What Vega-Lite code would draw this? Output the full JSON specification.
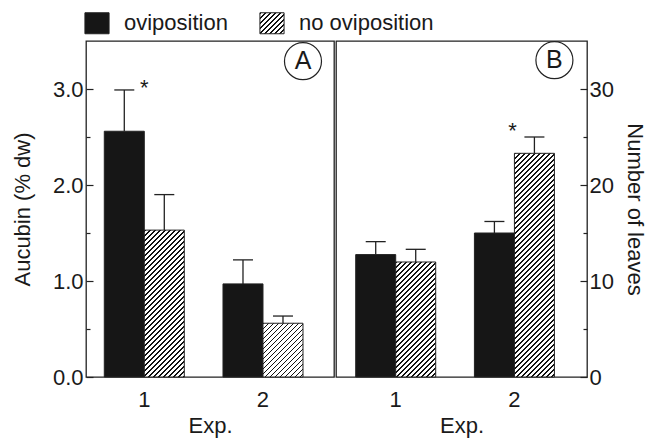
{
  "$schema": "https://vega.github.io/schema/vega-lite/v6.json",
  "padding": {"left": 10, "top": 12, "right": 5, "bottom": 5},
  "spacing": 0,
  "datasets": {
    "A": [
      {"exp": "1", "treat": "oviposition", "value": 2.56, "upper": 2.99},
      {"exp": "1", "treat": "no oviposition", "value": 1.53, "upper": 1.9},
      {"exp": "2", "treat": "oviposition", "value": 0.97, "upper": 1.22},
      {"exp": "2", "treat": "no oviposition", "value": 0.56, "upper": 0.635}
    ],
    "B": [
      {"exp": "1", "treat": "oviposition", "value": 12.75, "upper": 14.1},
      {"exp": "1", "treat": "no oviposition", "value": 11.98, "upper": 13.3},
      {"exp": "2", "treat": "oviposition", "value": 15.0, "upper": 16.2},
      {"exp": "2", "treat": "no oviposition", "value": 23.3, "upper": 25.0}
    ]
  },
  "config": {
    "font": "Liberation Sans",
    "view": {"stroke": "#222", "strokeWidth": 1.3},
    "axis": {"labelFontSize": 22, "titleFontSize": 22, "titleFontWeight": "normal", "labelColor": "#1a1a1a", "titleColor": "#1a1a1a", "grid": false, "tickColor": "#222", "tickWidth": 1.2, "domain": false, "labelFont": "Liberation Sans", "titleFont": "Liberation Sans"},
    "legend": {"labelFontSize": 22, "labelColor": "#1a1a1a", "labelFont": "Liberation Sans"}
  },
  "hconcat": [
    {
      "width": 248,
      "height": 336,
      "data": {"name": "A"},
      "layer": [
        {
          "mark": {"type": "bar", "stroke": "#222", "strokeWidth": 1},
          "encoding": {
            "x": {"field": "exp", "type": "nominal", "scale": {"paddingInner": 0.326, "paddingOuter": 0.2077, "align": 0.371}, "axis": {"labelAngle": 0, "ticks": false, "labelPadding": 12, "title": "Exp.", "titlePadding": 5}},
            "xOffset": {"field": "treat", "type": "nominal", "scale": {"domain": ["oviposition", "no oviposition"], "paddingInner": 0, "paddingOuter": 0}},
            "y": {"field": "value", "type": "quantitative", "scale": {"domain": [0, 3.5], "nice": false}, "axis": {"values": [0, 0.5, 1, 1.5, 2, 2.5, 3], "labelExpr": "datum.value % 1 === 0 ? format(datum.value, '.1f') : ''", "tickSize": {"condition": {"test": "datum.value % 1 === 0", "value": -7}, "value": -4}, "labelPadding": 10, "title": "Aucubin (% dw)", "titlePadding": 18}},
            "fill": {
              "condition": [
                {"test": "datum.treat === 'no oviposition' && datum.exp === '1'", "value": {"gradient": "linear", "x1": 0, "y1": 0, "x2": 0.4573, "y2": 1.6794, "stops": [
{"offset":0,"color":"#111"},{"offset":0.0064,"color":"#111"},{"offset":0.0064,"color":"#fff"},
{"offset":0.0189,"color":"#fff"},{"offset":0.0189,"color":"#111"},{"offset":0.0253,"color":"#111"},{"offset":0.0253,"color":"#fff"},
{"offset":0.0377,"color":"#fff"},{"offset":0.0377,"color":"#111"},{"offset":0.0442,"color":"#111"},{"offset":0.0442,"color":"#fff"},
{"offset":0.0566,"color":"#fff"},{"offset":0.0566,"color":"#111"},{"offset":0.063,"color":"#111"},{"offset":0.063,"color":"#fff"},
{"offset":0.0755,"color":"#fff"},{"offset":0.0755,"color":"#111"},{"offset":0.0819,"color":"#111"},{"offset":0.0819,"color":"#fff"},
{"offset":0.0943,"color":"#fff"},{"offset":0.0943,"color":"#111"},{"offset":0.1008,"color":"#111"},{"offset":0.1008,"color":"#fff"},
{"offset":0.1132,"color":"#fff"},{"offset":0.1132,"color":"#111"},{"offset":0.1196,"color":"#111"},{"offset":0.1196,"color":"#fff"},
{"offset":0.1321,"color":"#fff"},{"offset":0.1321,"color":"#111"},{"offset":0.1385,"color":"#111"},{"offset":0.1385,"color":"#fff"},
{"offset":0.1509,"color":"#fff"},{"offset":0.1509,"color":"#111"},{"offset":0.1574,"color":"#111"},{"offset":0.1574,"color":"#fff"},
{"offset":0.1698,"color":"#fff"},{"offset":0.1698,"color":"#111"},{"offset":0.1762,"color":"#111"},{"offset":0.1762,"color":"#fff"},
{"offset":0.1887,"color":"#fff"},{"offset":0.1887,"color":"#111"},{"offset":0.1951,"color":"#111"},{"offset":0.1951,"color":"#fff"},
{"offset":0.2075,"color":"#fff"},{"offset":0.2075,"color":"#111"},{"offset":0.214,"color":"#111"},{"offset":0.214,"color":"#fff"},
{"offset":0.2264,"color":"#fff"},{"offset":0.2264,"color":"#111"},{"offset":0.2328,"color":"#111"},{"offset":0.2328,"color":"#fff"},
{"offset":0.2453,"color":"#fff"},{"offset":0.2453,"color":"#111"},{"offset":0.2517,"color":"#111"},{"offset":0.2517,"color":"#fff"},
{"offset":0.2642,"color":"#fff"},{"offset":0.2642,"color":"#111"},{"offset":0.2706,"color":"#111"},{"offset":0.2706,"color":"#fff"},
{"offset":0.283,"color":"#fff"},{"offset":0.283,"color":"#111"},{"offset":0.2894,"color":"#111"},{"offset":0.2894,"color":"#fff"},
{"offset":0.3019,"color":"#fff"},{"offset":0.3019,"color":"#111"},{"offset":0.3083,"color":"#111"},{"offset":0.3083,"color":"#fff"},
{"offset":0.3208,"color":"#fff"},{"offset":0.3208,"color":"#111"},{"offset":0.3272,"color":"#111"},{"offset":0.3272,"color":"#fff"},
{"offset":0.3396,"color":"#fff"},{"offset":0.3396,"color":"#111"},{"offset":0.346,"color":"#111"},{"offset":0.346,"color":"#fff"},
{"offset":0.3585,"color":"#fff"},{"offset":0.3585,"color":"#111"},{"offset":0.3649,"color":"#111"},{"offset":0.3649,"color":"#fff"},
{"offset":0.3774,"color":"#fff"},{"offset":0.3774,"color":"#111"},{"offset":0.3838,"color":"#111"},{"offset":0.3838,"color":"#fff"},
{"offset":0.3962,"color":"#fff"},{"offset":0.3962,"color":"#111"},{"offset":0.4026,"color":"#111"},{"offset":0.4026,"color":"#fff"},
{"offset":0.4151,"color":"#fff"},{"offset":0.4151,"color":"#111"},{"offset":0.4215,"color":"#111"},{"offset":0.4215,"color":"#fff"},
{"offset":0.434,"color":"#fff"},{"offset":0.434,"color":"#111"},{"offset":0.4404,"color":"#111"},{"offset":0.4404,"color":"#fff"},
{"offset":0.4528,"color":"#fff"},{"offset":0.4528,"color":"#111"},{"offset":0.4592,"color":"#111"},{"offset":0.4592,"color":"#fff"},
{"offset":0.4717,"color":"#fff"},{"offset":0.4717,"color":"#111"},{"offset":0.4781,"color":"#111"},{"offset":0.4781,"color":"#fff"},
{"offset":0.4906,"color":"#fff"},{"offset":0.4906,"color":"#111"},{"offset":0.497,"color":"#111"},{"offset":0.497,"color":"#fff"},
{"offset":0.5094,"color":"#fff"},{"offset":0.5094,"color":"#111"},{"offset":0.5158,"color":"#111"},{"offset":0.5158,"color":"#fff"},
{"offset":0.5283,"color":"#fff"},{"offset":0.5283,"color":"#111"},{"offset":0.5347,"color":"#111"},{"offset":0.5347,"color":"#fff"},
{"offset":0.5472,"color":"#fff"},{"offset":0.5472,"color":"#111"},{"offset":0.5536,"color":"#111"},{"offset":0.5536,"color":"#fff"},
{"offset":0.566,"color":"#fff"},{"offset":0.566,"color":"#111"},{"offset":0.5724,"color":"#111"},{"offset":0.5724,"color":"#fff"},
{"offset":0.5849,"color":"#fff"},{"offset":0.5849,"color":"#111"},{"offset":0.5913,"color":"#111"},{"offset":0.5913,"color":"#fff"},
{"offset":0.6038,"color":"#fff"},{"offset":0.6038,"color":"#111"},{"offset":0.6102,"color":"#111"},{"offset":0.6102,"color":"#fff"},
{"offset":0.6226,"color":"#fff"},{"offset":0.6226,"color":"#111"},{"offset":0.629,"color":"#111"},{"offset":0.629,"color":"#fff"},
{"offset":0.6415,"color":"#fff"},{"offset":0.6415,"color":"#111"},{"offset":0.6479,"color":"#111"},{"offset":0.6479,"color":"#fff"},
{"offset":0.6604,"color":"#fff"},{"offset":0.6604,"color":"#111"},{"offset":0.6668,"color":"#111"},{"offset":0.6668,"color":"#fff"},
{"offset":0.6792,"color":"#fff"},{"offset":0.6792,"color":"#111"},{"offset":0.6856,"color":"#111"},{"offset":0.6856,"color":"#fff"},
{"offset":0.6981,"color":"#fff"},{"offset":0.6981,"color":"#111"},{"offset":0.7045,"color":"#111"},{"offset":0.7045,"color":"#fff"},
{"offset":0.717,"color":"#fff"},{"offset":0.717,"color":"#111"},{"offset":0.7234,"color":"#111"},{"offset":0.7234,"color":"#fff"}
]}},
                {"test": "datum.treat === 'no oviposition' && datum.exp === '2'", "value": {"gradient": "linear", "x1": 0, "y1": 0, "x2": 2.3585, "y2": 3.1722, "stops": [
{"offset":0,"color":"#111"},{"offset":0.0064,"color":"#111"},{"offset":0.0064,"color":"#fff"},
{"offset":0.0189,"color":"#fff"},{"offset":0.0189,"color":"#111"},{"offset":0.0253,"color":"#111"},{"offset":0.0253,"color":"#fff"},
{"offset":0.0377,"color":"#fff"},{"offset":0.0377,"color":"#111"},{"offset":0.0442,"color":"#111"},{"offset":0.0442,"color":"#fff"},
{"offset":0.0566,"color":"#fff"},{"offset":0.0566,"color":"#111"},{"offset":0.063,"color":"#111"},{"offset":0.063,"color":"#fff"},
{"offset":0.0755,"color":"#fff"},{"offset":0.0755,"color":"#111"},{"offset":0.0819,"color":"#111"},{"offset":0.0819,"color":"#fff"},
{"offset":0.0943,"color":"#fff"},{"offset":0.0943,"color":"#111"},{"offset":0.1008,"color":"#111"},{"offset":0.1008,"color":"#fff"},
{"offset":0.1132,"color":"#fff"},{"offset":0.1132,"color":"#111"},{"offset":0.1196,"color":"#111"},{"offset":0.1196,"color":"#fff"},
{"offset":0.1321,"color":"#fff"},{"offset":0.1321,"color":"#111"},{"offset":0.1385,"color":"#111"},{"offset":0.1385,"color":"#fff"},
{"offset":0.1509,"color":"#fff"},{"offset":0.1509,"color":"#111"},{"offset":0.1574,"color":"#111"},{"offset":0.1574,"color":"#fff"},
{"offset":0.1698,"color":"#fff"},{"offset":0.1698,"color":"#111"},{"offset":0.1762,"color":"#111"},{"offset":0.1762,"color":"#fff"},
{"offset":0.1887,"color":"#fff"},{"offset":0.1887,"color":"#111"},{"offset":0.1951,"color":"#111"},{"offset":0.1951,"color":"#fff"},
{"offset":0.2075,"color":"#fff"},{"offset":0.2075,"color":"#111"},{"offset":0.214,"color":"#111"},{"offset":0.214,"color":"#fff"},
{"offset":0.2264,"color":"#fff"},{"offset":0.2264,"color":"#111"},{"offset":0.2328,"color":"#111"},{"offset":0.2328,"color":"#fff"},
{"offset":0.2453,"color":"#fff"},{"offset":0.2453,"color":"#111"},{"offset":0.2517,"color":"#111"},{"offset":0.2517,"color":"#fff"},
{"offset":0.2642,"color":"#fff"},{"offset":0.2642,"color":"#111"},{"offset":0.2706,"color":"#111"},{"offset":0.2706,"color":"#fff"},
{"offset":0.283,"color":"#fff"},{"offset":0.283,"color":"#111"},{"offset":0.2894,"color":"#111"},{"offset":0.2894,"color":"#fff"},
{"offset":0.3019,"color":"#fff"},{"offset":0.3019,"color":"#111"},{"offset":0.3083,"color":"#111"},{"offset":0.3083,"color":"#fff"},
{"offset":0.3208,"color":"#fff"},{"offset":0.3208,"color":"#111"},{"offset":0.3272,"color":"#111"},{"offset":0.3272,"color":"#fff"},
{"offset":0.3396,"color":"#fff"},{"offset":0.3396,"color":"#111"},{"offset":0.346,"color":"#111"},{"offset":0.346,"color":"#fff"},
{"offset":0.3585,"color":"#fff"},{"offset":0.3585,"color":"#111"},{"offset":0.3649,"color":"#111"},{"offset":0.3649,"color":"#fff"}
]}}
              ],
              "field": "treat", "type": "nominal",
              "scale": {"domain": ["oviposition", "no oviposition"], "range": ["#161616", {"expr": "{gradient: 'linear', x1: 0, y1: 0, x2: 1.179, y2: 1.025, stops: [{offset: 0, color: '#111'}, {offset: 0.034, color: '#111'}, {offset: 0.034, color: '#fff'}, {offset: 0.1, color: '#fff'}, {offset: 0.1, color: '#111'}, {offset: 0.134, color: '#111'}, {offset: 0.134, color: '#fff'}, {offset: 0.2, color: '#fff'}, {offset: 0.2, color: '#111'}, {offset: 0.234, color: '#111'}, {offset: 0.234, color: '#fff'}, {offset: 0.3, color: '#fff'}, {offset: 0.3, color: '#111'}, {offset: 0.334, color: '#111'}, {offset: 0.334, color: '#fff'}, {offset: 0.4, color: '#fff'}, {offset: 0.4, color: '#111'}, {offset: 0.434, color: '#111'}, {offset: 0.434, color: '#fff'}, {offset: 0.5, color: '#fff'}, {offset: 0.5, color: '#111'}, {offset: 0.534, color: '#111'}, {offset: 0.534, color: '#fff'}, {offset: 0.6, color: '#fff'}, {offset: 0.6, color: '#111'}, {offset: 0.634, color: '#111'}, {offset: 0.634, color: '#fff'}, {offset: 0.7, color: '#fff'}, {offset: 0.7, color: '#111'}, {offset: 0.734, color: '#111'}, {offset: 0.734, color: '#fff'}, {offset: 0.8, color: '#fff'}, {offset: 0.8, color: '#111'}, {offset: 0.834, color: '#111'}, {offset: 0.834, color: '#fff'}, {offset: 0.9, color: '#fff'}, {offset: 0.9, color: '#111'}, {offset: 0.934, color: '#111'}, {offset: 0.934, color: '#fff'}]}"}]},
              "legend": {
                "title": null, "orient": "top", "direction": "horizontal", "offset": 2,
                "symbolType": "M-1.15,-1H1.15V1H-1.15Z", "symbolSize": 441, "symbolStrokeColor": "#222", "symbolStrokeWidth": 1,
                "labelOffset": 16, "columnPadding": 29
              }
            }
          }
        },
        {
          "mark": {"type": "rule", "color": "#222", "strokeWidth": 1.3},
          "encoding": {
            "x": {"field": "exp", "type": "nominal"},
            "xOffset": {"field": "treat", "type": "nominal"},
            "y": {"field": "value", "type": "quantitative"},
            "y2": {"field": "upper"}
          }
        },
        {
          "mark": {"type": "tick", "orient": "horizontal", "size": 20, "thickness": 1.3, "color": "#222", "opacity": 1},
          "encoding": {
            "x": {"field": "exp", "type": "nominal"},
            "xOffset": {"field": "treat", "type": "nominal"},
            "y": {"field": "upper", "type": "quantitative"}
          }
        },
        {
          "data": {"values": [{}]},
          "mark": {"type": "text", "text": "*", "fontSize": 22, "baseline": "alphabetic", "align": "center", "color": "#1a1a1a"},
          "encoding": {"x": {"datum": "1"}, "y": {"datum": 2.94}}
        },
        {
          "data": {"values": [{}]},
          "mark": {"type": "point", "shape": "circle", "size": 1369, "filled": false, "stroke": "#222", "strokeWidth": 1.2, "opacity": 1},
          "encoding": {"x": {"datum": "2", "bandPosition": 1}, "y": {"datum": 3.29}}
        },
        {
          "data": {"values": [{}]},
          "mark": {"type": "text", "text": "A", "fontSize": 25, "baseline": "middle", "align": "center", "color": "#1a1a1a"},
          "encoding": {"x": {"datum": "2", "bandPosition": 1}, "y": {"datum": 3.29}}
        }
      ]
    },
    {
      "width": 251,
      "height": 336,
      "data": {"name": "B"},
      "layer": [
        {
          "mark": {"type": "bar", "stroke": "#222", "strokeWidth": 1},
          "encoding": {
            "x": {"field": "exp", "type": "nominal", "scale": {"paddingInner": 0.326, "paddingOuter": 0.2203, "align": 0.377}, "axis": {"labelAngle": 0, "ticks": false, "labelPadding": 12, "title": "Exp.", "titlePadding": 5}},
            "xOffset": {"field": "treat", "type": "nominal", "scale": {"domain": ["oviposition", "no oviposition"], "paddingInner": 0, "paddingOuter": 0}},
            "y": {"field": "value", "type": "quantitative", "scale": {"domain": [0, 35], "nice": false}, "axis": {"orient": "right", "values": [0, 5, 10, 15, 20, 25, 30], "labelExpr": "datum.value % 10 === 0 ? format(datum.value, 'd') : ''", "tickSize": {"condition": {"test": "datum.value % 10 === 0", "value": -7}, "value": -4}, "labelPadding": 9, "title": "Number of leaves", "titlePadding": 9}},
            "fill": {
              "condition": [
                {"test": "datum.treat === 'no oviposition' && datum.exp === '1'", "value": {"gradient": "linear", "x1": 0, "y1": 0, "x2": 0.715, "y2": 2.0557, "stops": [
{"offset":0,"color":"#111"},{"offset":0.0064,"color":"#111"},{"offset":0.0064,"color":"#fff"},
{"offset":0.0189,"color":"#fff"},{"offset":0.0189,"color":"#111"},{"offset":0.0253,"color":"#111"},{"offset":0.0253,"color":"#fff"},
{"offset":0.0377,"color":"#fff"},{"offset":0.0377,"color":"#111"},{"offset":0.0442,"color":"#111"},{"offset":0.0442,"color":"#fff"},
{"offset":0.0566,"color":"#fff"},{"offset":0.0566,"color":"#111"},{"offset":0.063,"color":"#111"},{"offset":0.063,"color":"#fff"},
{"offset":0.0755,"color":"#fff"},{"offset":0.0755,"color":"#111"},{"offset":0.0819,"color":"#111"},{"offset":0.0819,"color":"#fff"},
{"offset":0.0943,"color":"#fff"},{"offset":0.0943,"color":"#111"},{"offset":0.1008,"color":"#111"},{"offset":0.1008,"color":"#fff"},
{"offset":0.1132,"color":"#fff"},{"offset":0.1132,"color":"#111"},{"offset":0.1196,"color":"#111"},{"offset":0.1196,"color":"#fff"},
{"offset":0.1321,"color":"#fff"},{"offset":0.1321,"color":"#111"},{"offset":0.1385,"color":"#111"},{"offset":0.1385,"color":"#fff"},
{"offset":0.1509,"color":"#fff"},{"offset":0.1509,"color":"#111"},{"offset":0.1574,"color":"#111"},{"offset":0.1574,"color":"#fff"},
{"offset":0.1698,"color":"#fff"},{"offset":0.1698,"color":"#111"},{"offset":0.1762,"color":"#111"},{"offset":0.1762,"color":"#fff"},
{"offset":0.1887,"color":"#fff"},{"offset":0.1887,"color":"#111"},{"offset":0.1951,"color":"#111"},{"offset":0.1951,"color":"#fff"},
{"offset":0.2075,"color":"#fff"},{"offset":0.2075,"color":"#111"},{"offset":0.214,"color":"#111"},{"offset":0.214,"color":"#fff"},
{"offset":0.2264,"color":"#fff"},{"offset":0.2264,"color":"#111"},{"offset":0.2328,"color":"#111"},{"offset":0.2328,"color":"#fff"},
{"offset":0.2453,"color":"#fff"},{"offset":0.2453,"color":"#111"},{"offset":0.2517,"color":"#111"},{"offset":0.2517,"color":"#fff"},
{"offset":0.2642,"color":"#fff"},{"offset":0.2642,"color":"#111"},{"offset":0.2706,"color":"#111"},{"offset":0.2706,"color":"#fff"},
{"offset":0.283,"color":"#fff"},{"offset":0.283,"color":"#111"},{"offset":0.2894,"color":"#111"},{"offset":0.2894,"color":"#fff"},
{"offset":0.3019,"color":"#fff"},{"offset":0.3019,"color":"#111"},{"offset":0.3083,"color":"#111"},{"offset":0.3083,"color":"#fff"},
{"offset":0.3208,"color":"#fff"},{"offset":0.3208,"color":"#111"},{"offset":0.3272,"color":"#111"},{"offset":0.3272,"color":"#fff"},
{"offset":0.3396,"color":"#fff"},{"offset":0.3396,"color":"#111"},{"offset":0.346,"color":"#111"},{"offset":0.346,"color":"#fff"},
{"offset":0.3585,"color":"#fff"},{"offset":0.3585,"color":"#111"},{"offset":0.3649,"color":"#111"},{"offset":0.3649,"color":"#fff"},
{"offset":0.3774,"color":"#fff"},{"offset":0.3774,"color":"#111"},{"offset":0.3838,"color":"#111"},{"offset":0.3838,"color":"#fff"},
{"offset":0.3962,"color":"#fff"},{"offset":0.3962,"color":"#111"},{"offset":0.4026,"color":"#111"},{"offset":0.4026,"color":"#fff"},
{"offset":0.4151,"color":"#fff"},{"offset":0.4151,"color":"#111"},{"offset":0.4215,"color":"#111"},{"offset":0.4215,"color":"#fff"},
{"offset":0.434,"color":"#fff"},{"offset":0.434,"color":"#111"},{"offset":0.4404,"color":"#111"},{"offset":0.4404,"color":"#fff"},
{"offset":0.4528,"color":"#fff"},{"offset":0.4528,"color":"#111"},{"offset":0.4592,"color":"#111"},{"offset":0.4592,"color":"#fff"},
{"offset":0.4717,"color":"#fff"},{"offset":0.4717,"color":"#111"},{"offset":0.4781,"color":"#111"},{"offset":0.4781,"color":"#fff"},
{"offset":0.4906,"color":"#fff"},{"offset":0.4906,"color":"#111"},{"offset":0.497,"color":"#111"},{"offset":0.497,"color":"#fff"},
{"offset":0.5094,"color":"#fff"},{"offset":0.5094,"color":"#111"},{"offset":0.5158,"color":"#111"},{"offset":0.5158,"color":"#fff"},
{"offset":0.5283,"color":"#fff"},{"offset":0.5283,"color":"#111"},{"offset":0.5347,"color":"#111"},{"offset":0.5347,"color":"#fff"},
{"offset":0.5472,"color":"#fff"},{"offset":0.5472,"color":"#111"},{"offset":0.5536,"color":"#111"},{"offset":0.5536,"color":"#fff"},
{"offset":0.566,"color":"#fff"},{"offset":0.566,"color":"#111"},{"offset":0.5724,"color":"#111"},{"offset":0.5724,"color":"#fff"},
{"offset":0.5849,"color":"#fff"},{"offset":0.5849,"color":"#111"},{"offset":0.5913,"color":"#111"},{"offset":0.5913,"color":"#fff"}
]}},
                {"test": "datum.treat === 'no oviposition' && datum.exp === '2'", "value": {"gradient": "linear", "x1": 0, "y1": 0, "x2": 0.2053, "y2": 1.1479, "stops": [
{"offset":0,"color":"#111"},{"offset":0.0064,"color":"#111"},{"offset":0.0064,"color":"#fff"},
{"offset":0.0189,"color":"#fff"},{"offset":0.0189,"color":"#111"},{"offset":0.0253,"color":"#111"},{"offset":0.0253,"color":"#fff"},
{"offset":0.0377,"color":"#fff"},{"offset":0.0377,"color":"#111"},{"offset":0.0442,"color":"#111"},{"offset":0.0442,"color":"#fff"},
{"offset":0.0566,"color":"#fff"},{"offset":0.0566,"color":"#111"},{"offset":0.063,"color":"#111"},{"offset":0.063,"color":"#fff"},
{"offset":0.0755,"color":"#fff"},{"offset":0.0755,"color":"#111"},{"offset":0.0819,"color":"#111"},{"offset":0.0819,"color":"#fff"},
{"offset":0.0943,"color":"#fff"},{"offset":0.0943,"color":"#111"},{"offset":0.1008,"color":"#111"},{"offset":0.1008,"color":"#fff"},
{"offset":0.1132,"color":"#fff"},{"offset":0.1132,"color":"#111"},{"offset":0.1196,"color":"#111"},{"offset":0.1196,"color":"#fff"},
{"offset":0.1321,"color":"#fff"},{"offset":0.1321,"color":"#111"},{"offset":0.1385,"color":"#111"},{"offset":0.1385,"color":"#fff"},
{"offset":0.1509,"color":"#fff"},{"offset":0.1509,"color":"#111"},{"offset":0.1574,"color":"#111"},{"offset":0.1574,"color":"#fff"},
{"offset":0.1698,"color":"#fff"},{"offset":0.1698,"color":"#111"},{"offset":0.1762,"color":"#111"},{"offset":0.1762,"color":"#fff"},
{"offset":0.1887,"color":"#fff"},{"offset":0.1887,"color":"#111"},{"offset":0.1951,"color":"#111"},{"offset":0.1951,"color":"#fff"},
{"offset":0.2075,"color":"#fff"},{"offset":0.2075,"color":"#111"},{"offset":0.214,"color":"#111"},{"offset":0.214,"color":"#fff"},
{"offset":0.2264,"color":"#fff"},{"offset":0.2264,"color":"#111"},{"offset":0.2328,"color":"#111"},{"offset":0.2328,"color":"#fff"},
{"offset":0.2453,"color":"#fff"},{"offset":0.2453,"color":"#111"},{"offset":0.2517,"color":"#111"},{"offset":0.2517,"color":"#fff"},
{"offset":0.2642,"color":"#fff"},{"offset":0.2642,"color":"#111"},{"offset":0.2706,"color":"#111"},{"offset":0.2706,"color":"#fff"},
{"offset":0.283,"color":"#fff"},{"offset":0.283,"color":"#111"},{"offset":0.2894,"color":"#111"},{"offset":0.2894,"color":"#fff"},
{"offset":0.3019,"color":"#fff"},{"offset":0.3019,"color":"#111"},{"offset":0.3083,"color":"#111"},{"offset":0.3083,"color":"#fff"},
{"offset":0.3208,"color":"#fff"},{"offset":0.3208,"color":"#111"},{"offset":0.3272,"color":"#111"},{"offset":0.3272,"color":"#fff"},
{"offset":0.3396,"color":"#fff"},{"offset":0.3396,"color":"#111"},{"offset":0.346,"color":"#111"},{"offset":0.346,"color":"#fff"},
{"offset":0.3585,"color":"#fff"},{"offset":0.3585,"color":"#111"},{"offset":0.3649,"color":"#111"},{"offset":0.3649,"color":"#fff"},
{"offset":0.3774,"color":"#fff"},{"offset":0.3774,"color":"#111"},{"offset":0.3838,"color":"#111"},{"offset":0.3838,"color":"#fff"},
{"offset":0.3962,"color":"#fff"},{"offset":0.3962,"color":"#111"},{"offset":0.4026,"color":"#111"},{"offset":0.4026,"color":"#fff"},
{"offset":0.4151,"color":"#fff"},{"offset":0.4151,"color":"#111"},{"offset":0.4215,"color":"#111"},{"offset":0.4215,"color":"#fff"},
{"offset":0.434,"color":"#fff"},{"offset":0.434,"color":"#111"},{"offset":0.4404,"color":"#111"},{"offset":0.4404,"color":"#fff"},
{"offset":0.4528,"color":"#fff"},{"offset":0.4528,"color":"#111"},{"offset":0.4592,"color":"#111"},{"offset":0.4592,"color":"#fff"},
{"offset":0.4717,"color":"#fff"},{"offset":0.4717,"color":"#111"},{"offset":0.4781,"color":"#111"},{"offset":0.4781,"color":"#fff"},
{"offset":0.4906,"color":"#fff"},{"offset":0.4906,"color":"#111"},{"offset":0.497,"color":"#111"},{"offset":0.497,"color":"#fff"},
{"offset":0.5094,"color":"#fff"},{"offset":0.5094,"color":"#111"},{"offset":0.5158,"color":"#111"},{"offset":0.5158,"color":"#fff"},
{"offset":0.5283,"color":"#fff"},{"offset":0.5283,"color":"#111"},{"offset":0.5347,"color":"#111"},{"offset":0.5347,"color":"#fff"},
{"offset":0.5472,"color":"#fff"},{"offset":0.5472,"color":"#111"},{"offset":0.5536,"color":"#111"},{"offset":0.5536,"color":"#fff"},
{"offset":0.566,"color":"#fff"},{"offset":0.566,"color":"#111"},{"offset":0.5724,"color":"#111"},{"offset":0.5724,"color":"#fff"},
{"offset":0.5849,"color":"#fff"},{"offset":0.5849,"color":"#111"},{"offset":0.5913,"color":"#111"},{"offset":0.5913,"color":"#fff"},
{"offset":0.6038,"color":"#fff"},{"offset":0.6038,"color":"#111"},{"offset":0.6102,"color":"#111"},{"offset":0.6102,"color":"#fff"},
{"offset":0.6226,"color":"#fff"},{"offset":0.6226,"color":"#111"},{"offset":0.629,"color":"#111"},{"offset":0.629,"color":"#fff"},
{"offset":0.6415,"color":"#fff"},{"offset":0.6415,"color":"#111"},{"offset":0.6479,"color":"#111"},{"offset":0.6479,"color":"#fff"},
{"offset":0.6604,"color":"#fff"},{"offset":0.6604,"color":"#111"},{"offset":0.6668,"color":"#111"},{"offset":0.6668,"color":"#fff"},
{"offset":0.6792,"color":"#fff"},{"offset":0.6792,"color":"#111"},{"offset":0.6856,"color":"#111"},{"offset":0.6856,"color":"#fff"},
{"offset":0.6981,"color":"#fff"},{"offset":0.6981,"color":"#111"},{"offset":0.7045,"color":"#111"},{"offset":0.7045,"color":"#fff"},
{"offset":0.717,"color":"#fff"},{"offset":0.717,"color":"#111"},{"offset":0.7234,"color":"#111"},{"offset":0.7234,"color":"#fff"},
{"offset":0.7358,"color":"#fff"},{"offset":0.7358,"color":"#111"},{"offset":0.7422,"color":"#111"},{"offset":0.7422,"color":"#fff"},
{"offset":0.7547,"color":"#fff"},{"offset":0.7547,"color":"#111"},{"offset":0.7611,"color":"#111"},{"offset":0.7611,"color":"#fff"},
{"offset":0.7736,"color":"#fff"},{"offset":0.7736,"color":"#111"},{"offset":0.78,"color":"#111"},{"offset":0.78,"color":"#fff"},
{"offset":0.7925,"color":"#fff"},{"offset":0.7925,"color":"#111"},{"offset":0.7989,"color":"#111"},{"offset":0.7989,"color":"#fff"},
{"offset":0.8113,"color":"#fff"},{"offset":0.8113,"color":"#111"},{"offset":0.8177,"color":"#111"},{"offset":0.8177,"color":"#fff"},
{"offset":0.8302,"color":"#fff"},{"offset":0.8302,"color":"#111"},{"offset":0.8366,"color":"#111"},{"offset":0.8366,"color":"#fff"},
{"offset":0.8491,"color":"#fff"},{"offset":0.8491,"color":"#111"},{"offset":0.8555,"color":"#111"},{"offset":0.8555,"color":"#fff"},
{"offset":0.8679,"color":"#fff"},{"offset":0.8679,"color":"#111"},{"offset":0.8743,"color":"#111"},{"offset":0.8743,"color":"#fff"},
{"offset":0.8868,"color":"#fff"},{"offset":0.8868,"color":"#111"},{"offset":0.8932,"color":"#111"},{"offset":0.8932,"color":"#fff"},
{"offset":0.9057,"color":"#fff"},{"offset":0.9057,"color":"#111"},{"offset":0.9121,"color":"#111"},{"offset":0.9121,"color":"#fff"},
{"offset":0.9245,"color":"#fff"},{"offset":0.9245,"color":"#111"},{"offset":0.9309,"color":"#111"},{"offset":0.9309,"color":"#fff"},
{"offset":0.9434,"color":"#fff"},{"offset":0.9434,"color":"#111"},{"offset":0.9498,"color":"#111"},{"offset":0.9498,"color":"#fff"},
{"offset":0.9623,"color":"#fff"},{"offset":0.9623,"color":"#111"},{"offset":0.9687,"color":"#111"},{"offset":0.9687,"color":"#fff"},
{"offset":0.9811,"color":"#fff"},{"offset":0.9811,"color":"#111"},{"offset":0.9875,"color":"#111"},{"offset":0.9875,"color":"#fff"}
]}}
              ],
              "field": "treat", "type": "nominal"
            }
          }
        },
        {
          "mark": {"type": "rule", "color": "#222", "strokeWidth": 1.3},
          "encoding": {
            "x": {"field": "exp", "type": "nominal"},
            "xOffset": {"field": "treat", "type": "nominal"},
            "y": {"field": "value", "type": "quantitative"},
            "y2": {"field": "upper"}
          }
        },
        {
          "mark": {"type": "tick", "orient": "horizontal", "size": 20, "thickness": 1.3, "color": "#222", "opacity": 1},
          "encoding": {
            "x": {"field": "exp", "type": "nominal"},
            "xOffset": {"field": "treat", "type": "nominal"},
            "y": {"field": "upper", "type": "quantitative"}
          }
        },
        {
          "data": {"values": [{}]},
          "mark": {"type": "text", "text": "*", "fontSize": 22, "baseline": "alphabetic", "align": "center", "color": "#1a1a1a", "dx": -2},
          "encoding": {"x": {"datum": "2"}, "y": {"datum": 24.94}}
        },
        {
          "data": {"values": [{}]},
          "mark": {"type": "point", "shape": "circle", "size": 1369, "filled": false, "stroke": "#222", "strokeWidth": 1.2, "opacity": 1},
          "encoding": {"x": {"datum": "2", "bandPosition": 1}, "y": {"datum": 33.0}}
        },
        {
          "data": {"values": [{}]},
          "mark": {"type": "text", "text": "B", "fontSize": 25, "baseline": "middle", "align": "center", "color": "#1a1a1a"},
          "encoding": {"x": {"datum": "2", "bandPosition": 1}, "y": {"datum": 33.0}}
        }
      ]
    }
  ]
}
